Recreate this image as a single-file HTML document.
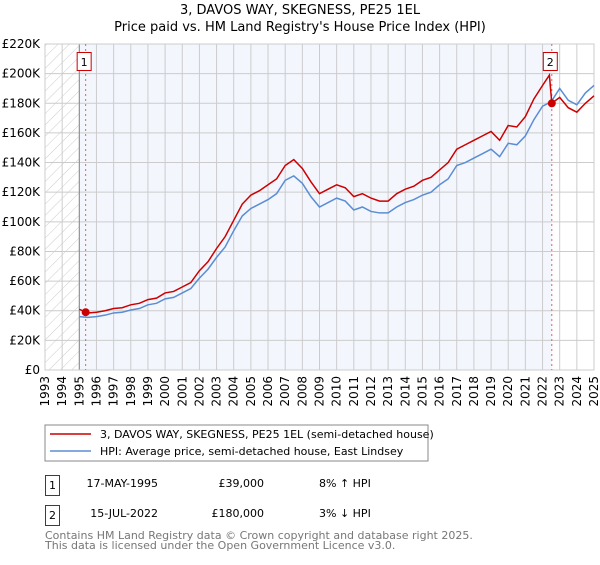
<!DOCTYPE html>
<html><head><meta charset="utf-8"><style>
body{margin:0;background:#fff;font-family:"Liberation Sans","DejaVu Sans",sans-serif;}
svg text{font-family:"DejaVu Sans","Liberation Sans",sans-serif;}
</style></head><body>
<svg id="chart" width="600" height="560" xmlns="http://www.w3.org/2000/svg">
<defs><pattern id="hatch" width="8" height="8" patternUnits="userSpaceOnUse" patternTransform="rotate(45)"><line x1="0" y1="0" x2="0" y2="8" stroke="#ccc" stroke-width="1"/></pattern></defs>
<text x="300" y="14" text-anchor="middle" font-size="13" fill="#000">3, DAVOS WAY, SKEGNESS, PE25 1EL</text>
<text x="300" y="31" text-anchor="middle" font-size="13" fill="#000">Price paid vs. HM Land Registry's House Price Index (HPI)</text>
<g id="plot"></g>
<g>
<rect x="45" y="425" width="383" height="36" fill="#fff" stroke="#888"/>
<line x1="50" y1="434" x2="91" y2="434" stroke="#cc0000" stroke-width="1.5"/>
<text x="100" y="438" font-size="11">3, DAVOS WAY, SKEGNESS, PE25 1EL (semi-detached house)</text>
<line x1="50" y1="451" x2="91" y2="451" stroke="#5b8dd4" stroke-width="1.5"/>
<text x="100" y="455" font-size="11">HPI: Average price, semi-detached house, East Lindsey</text>
</g>
<g>
<rect x="45.5" y="475.5" width="14" height="20" fill="#fff" stroke="#cc0000"/>
<text x="52.5" y="489" text-anchor="middle" font-size="11">1</text>
<text x="158" y="487" text-anchor="end" font-size="11">17-MAY-1995</text>
<text x="264" y="487" text-anchor="end" font-size="11">£39,000</text>
<text x="319" y="487" font-size="11">8% ↑ HPI</text>
<rect x="45.5" y="505.5" width="14" height="20" fill="#fff" stroke="#cc0000"/>
<text x="52.5" y="519" text-anchor="middle" font-size="11">2</text>
<text x="158" y="517" text-anchor="end" font-size="11">15-JUL-2022</text>
<text x="264" y="517" text-anchor="end" font-size="11">£180,000</text>
<text x="319" y="517" font-size="11">3% ↓ HPI</text>
</g>
<text x="45" y="539" font-size="11" fill="#777">Contains HM Land Registry data © Crown copyright and database right 2025.</text>
<text x="45" y="549" font-size="11" fill="#777">This data is licensed under the Open Government Licence v3.0.</text>
</svg>
<script>
const hpiYears=[1995,1995.5,1996,1996.5,1997,1997.5,1998,1998.5,1999,1999.5,2000,2000.5,2001,2001.5,2002,2002.5,2003,2003.5,2004,2004.5,2005,2005.5,2006,2006.5,2007,2007.5,2008,2008.5,2009,2009.5,2010,2010.5,2011,2011.5,2012,2012.5,2013,2013.5,2014,2014.5,2015,2015.5,2016,2016.5,2017,2017.5,2018,2018.5,2019,2019.5,2020,2020.5,2021,2021.5,2022,2022.5,2023,2023.5,2024,2024.5,2025];
const hpiValues=[36,35.5,36,37,38.5,39,40.5,41.5,44,45,48,49,52,55,62,68,76,83,94,104,109,112,115,119,128,131,126,117,110,113,116,114,108,110,107,106,106,110,113,115,118,120,125,129,138,140,143,146,149,144,153,152,158,169,178,181,190,182,179,187,192];
const propYears=[1995,1995.37,1995.5,1996,1996.5,1997,1997.5,1998,1998.5,1999,1999.5,2000,2000.5,2001,2001.5,2002,2002.5,2003,2003.5,2004,2004.5,2005,2005.5,2006,2006.5,2007,2007.5,2008,2008.5,2009,2009.5,2010,2010.5,2011,2011.5,2012,2012.5,2013,2013.5,2014,2014.5,2015,2015.5,2016,2016.5,2017,2017.5,2018,2018.5,2019,2019.5,2020,2020.5,2021,2021.5,2022,2022.4,2022.54,2023,2023.5,2024,2024.5,2025];
const propValues=[41,39,38.5,39,40,41.5,42,44,45,47.5,48.5,52,53,56,59,67,73,82,90,101,112,118,121,125,129,138,142,136,127,119,122,125,123,117,119,116,114,114,119,122,124,128,130,135,140,149,152,155,158,161,155,165,164,171,183,192,199,180,184,177,174,180,185];
const sales=[{n:"1",year:1995.37,value:39},{n:"2",year:2022.54,value:180}];
const yTicks=[0,20,40,60,80,100,120,140,160,180,200,220];
const xTicks=[1993,1994,1995,1996,1997,1998,1999,2000,2001,2002,2003,2004,2005,2006,2007,2008,2009,2010,2011,2012,2013,2014,2015,2016,2017,2018,2019,2020,2021,2022,2023,2024,2025];
const X0=45,X1=594,Y0=370,Y1=44;
const xs=y=>X0+(y-1993)/(2025-1993)*(X1-X0);
const ys=v=>Y0-v/220*(Y0-Y1);
const NS="http://www.w3.org/2000/svg";
const g=document.getElementById('plot');
function mk(t,a){const e=document.createElementNS(NS,t);for(const k in a)e.setAttribute(k,a[k]);g.appendChild(e);return e;}
let e;
e=mk('rect',{x:X0,y:Y1,width:X1-X0,height:Y0-Y1,fill:'#fff'});


e=mk('rect',{x:xs(1995),y:Y1,width:xs(2022.54)-xs(1995),height:Y0-Y1,fill:'#f3f6fd'});


e=mk('rect',{x:X0,y:Y1,width:xs(1995)-X0,height:Y0-Y1,fill:'url(#hatch)'});


yTicks.forEach(t=>{
 e=mk('line',{x1:X0,x2:X1,y1:ys(t),y2:ys(t),stroke:'#ccc','stroke-width':1});
 
 
 e=mk('text',{x:40,y:ys(t)+4,'text-anchor':'end','font-size':12});
 e.textContent=t===0?'£0':'£'+t+'K';
 
 
});
xTicks.forEach(t=>{
 e=mk('line',{x1:xs(t),x2:xs(t),y1:Y1,y2:Y0,stroke:'#ccc','stroke-width':1});
 
 
 e=mk('text',{x:0,y:0,'text-anchor':'end','font-size':12,transform:`translate(${xs(t)+4},376) rotate(-90)`});
 e.textContent=t;
 
 
});
e=mk('line',{x1:xs(1995),x2:xs(1995),y1:Y1,y2:Y0,stroke:'#888','stroke-width':1});


e=mk('rect',{x:X0,y:Y1,width:X1-X0,height:Y0-Y1,fill:'none',stroke:'#ccc'});


sales.forEach(s=>{
 e=mk('line',{x1:xs(s.year),x2:xs(s.year),y1:Y1,y2:Y0,stroke:'#e06060','stroke-width':1,'stroke-dasharray':'2,3'});
 
 
});
e=mk('polyline',{points:hpiYears.map((y,i)=>xs(y)+','+ys(hpiValues[i])).join(' '),fill:'none',stroke:'#5b8dd4','stroke-width':1.5});


e=mk('polyline',{points:propYears.map((y,i)=>xs(y)+','+ys(propValues[i])).join(' '),fill:'none',stroke:'#cc0000','stroke-width':1.5});


sales.forEach(s=>{
 e=mk('circle',{cx:xs(s.year),cy:ys(s.value),r:4,fill:'#cc0000'});
 
 
 const bx=xs(s.year)-8;
 e=mk('rect',{x:bx-0.5,y:52.5,width:14,height:18,fill:'#fff',stroke:'#cc0000'});
 
 
 e=mk('text',{x:bx+6.5,y:66,'text-anchor':'middle','font-size':11});
 e.textContent=s.n;
 
 
});
</script>
</body></html>
